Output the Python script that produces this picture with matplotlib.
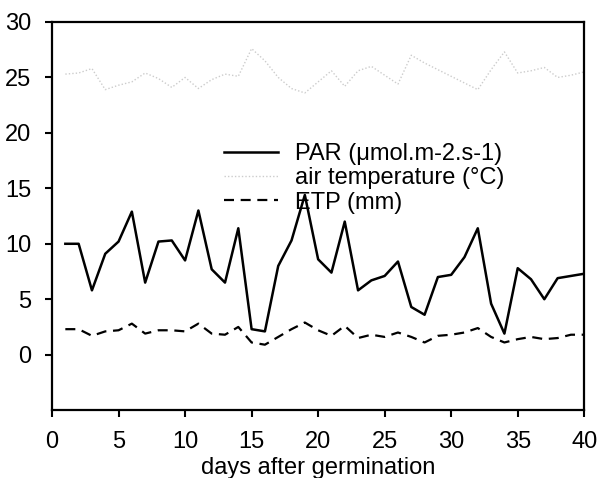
import numpy as np
import matplotlib
matplotlib.use("Agg")
import matplotlib.pyplot as plt

plt.rcParams['font.family'] = ['Liberation Sans', 'DejaVu Sans']

days = list(range(1, 41))
par = [10.0, 10.0, 5.8, 9.1, 10.2, 12.9, 6.5, 10.2, 10.3, 8.5,
       13.0, 7.7, 6.5, 11.4, 2.3, 2.1, 8.0, 10.3, 14.4, 8.6,
       7.4, 12.0, 5.8, 6.7, 7.1, 8.4, 4.3, 3.6, 7.0, 7.2,
       8.8, 11.4, 4.6, 1.9, 7.8, 6.8, 5.0, 6.9, 7.1, 7.3]
air_temp = [25.3, 25.4, 25.8, 23.9, 24.3, 24.6, 25.4, 24.9, 24.1, 25.0,
            24.0, 24.8, 25.3, 25.1, 27.6, 26.5, 25.0, 24.0, 23.6, 24.6,
            25.6, 24.2, 25.6, 26.0, 25.2, 24.4, 27.0, 26.3, 25.7, 25.1,
            24.5, 23.9, 25.7, 27.3, 25.4, 25.6, 25.9, 25.0, 25.2, 25.5]
etp = [2.3, 2.3, 1.7, 2.1, 2.2, 2.8, 1.9, 2.2, 2.2, 2.1,
       2.8, 1.9, 1.8, 2.5, 1.1, 0.9, 1.6, 2.3, 2.9, 2.2,
       1.7, 2.6, 1.5, 1.8, 1.6, 2.0, 1.6, 1.1, 1.7, 1.8,
       2.0, 2.4, 1.6, 1.1, 1.4, 1.6, 1.4, 1.5, 1.8, 1.8]

fig = plt.figure(figsize=(5.98, 4.78), dpi=100)
ax = fig.add_axes([0.087, 0.142, 0.89, 0.812])

ax.plot(days, par, color='black', lw=1.8, label='PAR (\u03bcmol.m-2.s-1)')
ax.plot(days, air_temp, color='#cccccc', lw=1.0, linestyle=(0, (1, 1.5)),
        label='air temperature (\u00b0C)')
ax.plot(days, etp, color='black', lw=1.6, linestyle=(0, (4.5, 3)), label='ETP (mm)')

ax.set_xlim(0, 40)
ax.set_ylim(-5, 30)
ax.set_xticks(np.arange(0, 41, 5))
ax.set_yticks(np.arange(0, 31, 5))
ax.tick_params(direction='out', length=5, width=1.5, labelsize=17, pad=10)
for s in ax.spines.values():
    s.set_linewidth(1.6)
ax.set_xlabel('days after germination', fontsize=17, labelpad=3)

ax.legend(loc='upper left', bbox_to_anchor=(224 / 598, 1 - 143 / 478),
          bbox_transform=fig.transFigure, frameon=False, fontsize=17,
          handlelength=2.3, handletextpad=0.7, labelspacing=0.1, borderpad=0,
          borderaxespad=0)

fig.savefig('out.png', dpi=100)
